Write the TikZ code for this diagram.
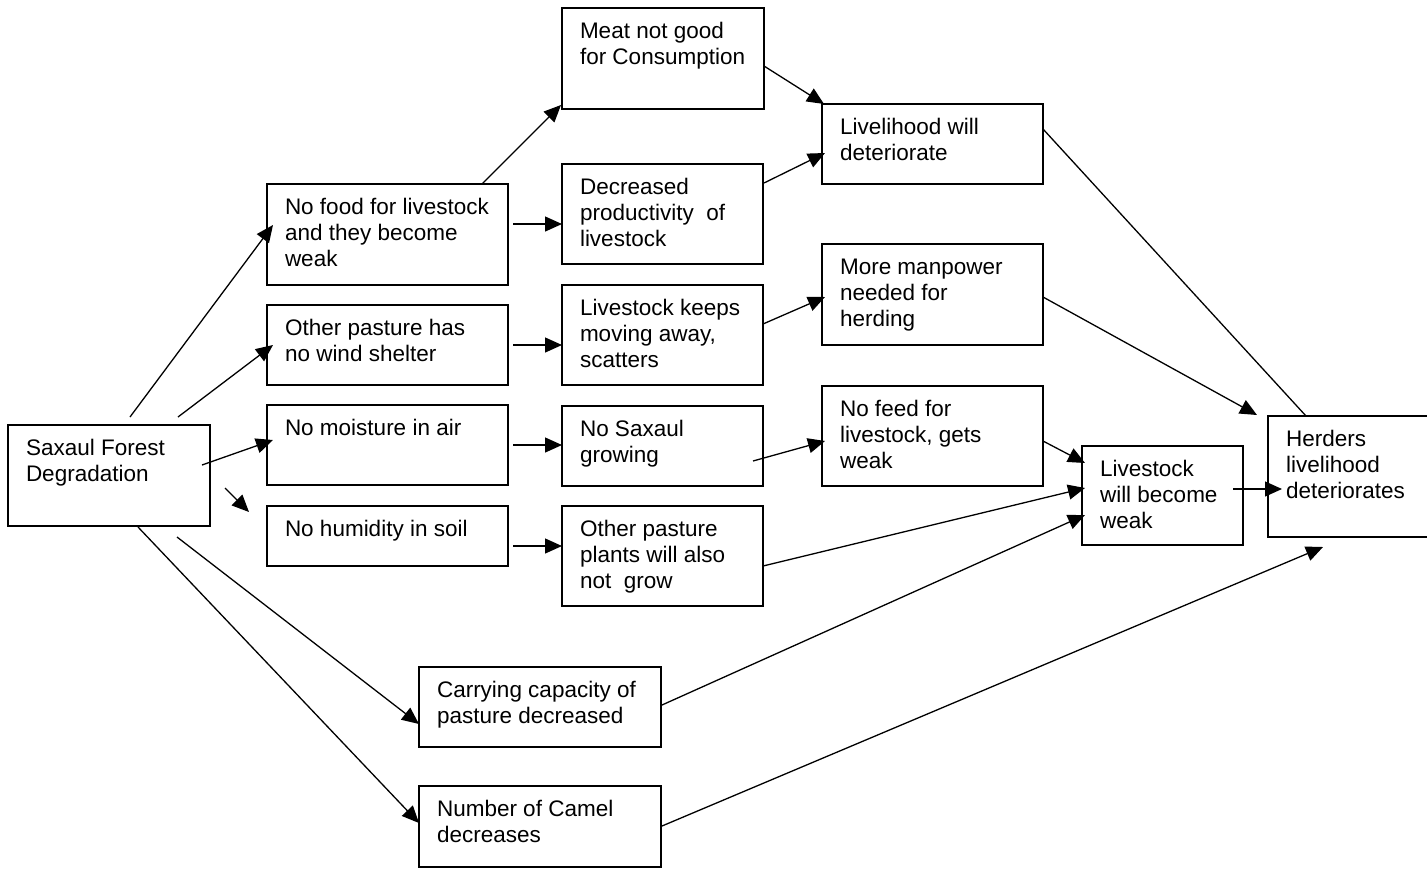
\documentclass[tikz,border=0pt]{standalone}
\usepackage{fontspec}
\setmainfont{Liberation Sans}
\usetikzlibrary{arrows.meta,calc}
\tikzset{
  boxst/.style={draw=black, line width=1.4pt, rectangle, inner sep=0pt, outer sep=0pt, fill=white},
  txtst/.style={inner sep=0pt, outer sep=0pt, anchor=base west, font=\fontsize{22.5pt}{26pt}\selectfont},
  conn/.style={line width=1.3pt, draw=black},
  arr/.style={conn, -{Triangle[length=17pt,width=15pt]}},
}
\newcommand{\bx}[6]{%
  \node[boxst, minimum width=#4pt, minimum height=#5pt, anchor=north west] (#1) at (#2,#3) {};
  \node[txtst] (#1t) at ($(#1.north west)+(18,30)$) {\begin{tabular}[t]{@{}l@{}}#6\end{tabular}};
}
\begin{document}
\begin{tikzpicture}[x=1pt,y=-1pt]
\useasboundingbox[fill=white] (0,0) rectangle (1427,868);
\clip (0,0) rectangle (1427,868);
\bx{sax}{8}{425}{202}{101}{Saxaul Forest\\Degradation}
\bx{meat}{562}{8}{202}{101}{Meat not good\\for Consumption}
\bx{live}{822}{104}{221}{80}{Livelihood will\\deteriorate}
\bx{food}{267}{184}{241}{101}{No food for livestock\\and they become\\weak}
\bx{decr}{562}{164}{201}{100}{Decreased\\productivity\ \ of\\livestock}
\bx{manp}{822}{244}{221}{101}{More manpower\\needed for\\herding}
\bx{wind}{267}{305}{241}{80}{Other pasture has\\no wind shelter}
\bx{keeps}{562}{285}{201}{100}{Livestock keeps\\moving away,\\scatters}
\bx{moist}{267}{405}{241}{80}{No moisture in air}
\bx{saxg}{562}{406}{201}{80}{No Saxaul\\growing}
\bx{feed}{822}{386}{221}{100}{No feed for\\livestock, gets\\weak}
\bx{weak}{1082}{446}{161}{99}{Livestock\\will become\\weak}
\bx{herd}{1268}{416}{170}{121}{Herders\\livelihood\\deteriorates}
\bx{hum}{267}{506}{241}{60}{No humidity in soil}
\bx{plants}{562}{506}{201}{100}{Other pasture\\plants will also\\not\ \ grow}
\bx{carry}{419}{667}{242}{80}{Carrying capacity of\\pasture decreased}
\bx{camel}{419}{786}{242}{81}{Number of Camel\\decreases}
% connectors from Saxaul Forest Degradation
\draw[arr] ($(sax.north west)+(122,-8)$) -- ($(food.north west)+(6,41)$);
\draw[arr] ($(sax.north west)+(170,-8)$) -- ($(wind.north west)+(6,40)$);
\draw[arr] ($(sax.north west)+(194,40)$) -- ($(moist.north west)+(6,35)$);
\draw[arr] ($(sax.north west)+(217,63)$) -- ($(hum.north west)+(-18,6)$);
\draw[arr] ($(sax.north west)+(169,112)$) -- ($(carry.north west)+(0,57)$);
\draw[arr] ($(sax.north west)+(130,102)$) -- ($(camel.north west)+(0,37)$);
% first column to second column
\draw[arr] ($(food.north west)+(215,0)$) -- ($(meat.north west)+(-1,97)$);
\draw[arr] ($(food.north west)+(246,40)$) -- ($(decr.north west)+(0,60)$);
\draw[arr] ($(wind.north west)+(246,40)$) -- ($(keeps.north west)+(0,60)$);
\draw[arr] ($(moist.north west)+(246,40)$) -- ($(saxg.north west)+(0,39)$);
\draw[arr] ($(hum.north west)+(246,40)$) -- ($(plants.north west)+(0,40)$);
% second column to third column
\draw[arr] ($(meat.north west)+(202,58)$) -- ($(live.north west)+(2,0)$);
\draw[arr] ($(decr.north west)+(202,19)$) -- ($(live.north west)+(3,49)$);
\draw[arr] ($(keeps.north west)+(201,39)$) -- ($(manp.north west)+(3,53)$);
\draw[arr] ($(saxg.north west)+(191,55)$) -- ($(feed.north west)+(3,55)$);
% to the right
\draw[conn] ($(live.north west)+(221,25)$) -- ($(herd.north west)+(38,0)$);
\draw[arr] ($(manp.north west)+(221,53)$) -- ($(herd.north west)+(-11,-1)$);
\draw[arr] ($(feed.north west)+(221,55)$) -- ($(weak.north west)+(3,17)$);
\draw[arr] ($(plants.north west)+(201,60)$) -- ($(weak.north west)+(3,42)$);
\draw[arr] ($(carry.north west)+(243,38)$) -- ($(weak.north west)+(3,69)$);
\draw[arr] ($(weak.north west)+(151,43)$) -- ($(herd.north west)+(14,73)$);
\draw[arr] ($(camel.north west)+(243,40)$) -- ($(herd.north west)+(55,131)$);
\end{tikzpicture}
\end{document}
